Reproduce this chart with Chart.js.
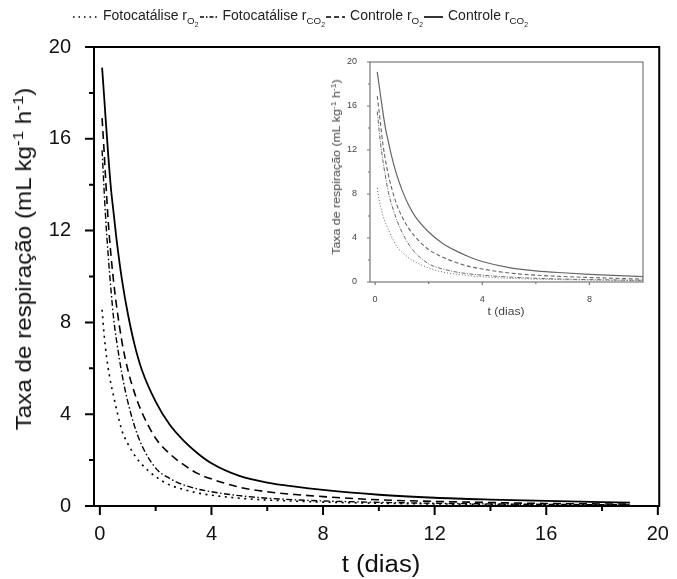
<!DOCTYPE html>
<html lang="pt">
<head>
<meta charset="UTF-8">
<title>Taxa de respiração</title>
<script src="https://cdn.jsdelivr.net/npm/chart.js@4"></script>
<style>
  body { margin: 0; background: #fff; font-family: 'Liberation Sans', Arial, sans-serif; }
  #wrap { position: relative; width: 677px; height: 579px; }
  #main { position: absolute; left: 0; top: 0; }
  #inset { position: absolute; left: 320px; top: 50px; }
  .ytitle { position: absolute; white-space: nowrap; transform: translate(-50%, -50%) rotate(-90deg) scaleX(var(--sx, 1)); }
  .xtitle { position: absolute; white-space: nowrap; transform: translate(-50%, -50%) scaleX(var(--sx, 1)); }
  sup, sub { font-size: 70%; line-height: 0; }
  #legend { position: absolute; left: 72px; top: 7px; display: flex; align-items: center; font-size: 14px; color: #222; white-space: nowrap; }
  #legend svg { display: block; }
  #legend span { margin: 0 1px 0 5px; }
</style>
</head>
<body>
<div id="wrap">
  <canvas id="main" width="677" height="579"></canvas>
  <canvas id="inset" width="345" height="270"></canvas>

  <div id="legend">
    <svg width="26" height="12"><line x1="1" y1="7" x2="26" y2="7" stroke="#000" stroke-width="1.6" stroke-dasharray="1.5,4"/></svg>
    <span>Fotocatálise r<sub>O<sub>2</sub></sub></span>
    <svg width="18" height="12"><line x1="0" y1="7" x2="18" y2="7" stroke="#000" stroke-width="1.4" stroke-dasharray="4,2,1.5,2"/></svg>
    <span>Fotocatálise r<sub>CO<sub>2</sub></sub></span>
    <svg width="19" height="12"><line x1="0" y1="7" x2="19" y2="7" stroke="#000" stroke-width="1.5" stroke-dasharray="5,3"/></svg>
    <span>Controle r<sub>O<sub>2</sub></sub></span>
    <svg width="19" height="12"><line x1="0" y1="7" x2="19" y2="7" stroke="#000" stroke-width="1.6"/></svg>
    <span>Controle r<sub>CO<sub>2</sub></sub></span>
  </div>

  <div class="ytitle" style="left:24px; top:259px; font-size:22px; color:#111; --sx:1.1;">Taxa de respiração (mL kg<sup>-1</sup> h<sup>-1</sup>)</div>
  <div class="xtitle" style="left:381px; top:564px; font-size:23px; color:#111; --sx:1.12;">t (dias)</div>

  <div class="ytitle" style="left:336px; top:167px; font-size:10.5px; color:#444; --sx:1.18;">Taxa de respiração (mL kg<sup>-1</sup> h<sup>-1</sup>)</div>
  <div class="xtitle" style="left:506px; top:311px; font-size:10.5px; color:#444; --sx:1.15;">t (dias)</div>
</div>

<script>
// tempo (dias)
const t = [0.08, 0.15, 0.2, 0.3, 0.4, 0.5, 0.6, 0.8, 1.0, 1.25, 1.5, 2, 2.5, 3, 3.5, 4, 5, 6, 7, 8, 10, 12, 14, 16, 19];

// taxas (mL kg-1 h-1)
const fotoO2      = [8.55, 7.5, 6.9, 6.0, 5.3, 4.75, 4.2, 3.25, 2.72, 2.2, 1.82, 1.28, 0.92, 0.72, 0.57, 0.47, 0.34, 0.26, 0.21, 0.17, 0.12, 0.09, 0.07, 0.05, 0.04];
const fotoCO2     = [15.5, 13.8, 12.7, 10.9, 9.4, 8.1, 7.2, 5.7, 4.55, 3.45, 2.65, 1.65, 1.2, 0.92, 0.74, 0.62, 0.45, 0.34, 0.27, 0.22, 0.16, 0.12, 0.09, 0.07, 0.05];
const controleO2  = [16.9, 15.5, 14.4, 12.4, 10.9, 9.7, 8.7, 7.1, 5.95, 4.9, 4.1, 2.95, 2.28, 1.8, 1.42, 1.18, 0.82, 0.62, 0.5, 0.41, 0.27, 0.2, 0.15, 0.11, 0.08];
const controleCO2 = [19.1, 17.9, 17.0, 15.3, 13.8, 12.7, 11.6, 9.8, 8.4, 7.0, 5.95, 4.55, 3.55, 2.85, 2.3, 1.86, 1.31, 1.02, 0.84, 0.7, 0.49, 0.36, 0.28, 0.22, 0.15];

// marcas dos eixos
const xTicksMain = [0, 2, 4, 6, 8, 10, 12, 14, 16, 18, 20];
const xTicksInset = [0, 2, 4, 6, 8];
const yTicks = [0, 2, 4, 6, 8, 10, 12, 14, 16, 18, 20];

const pts = arr => arr.map((v, i) => ({ x: t[i], y: v }));

function makeDatasets(color, w, dashes) {
  const series = [fotoO2, fotoCO2, controleO2, controleCO2];
  const names = ['Fotocatálise rO2', 'Fotocatálise rCO2', 'Controle rO2', 'Controle rCO2'];
  return series.map((s, i) => ({
    label: names[i],
    data: pts(s),
    borderColor: color,
    borderWidth: w[i],
    borderDash: dashes[i],
    pointRadius: 0,
    fill: false,
    cubicInterpolationMode: 'monotone'
  }));
}

// moldura + marcas (maior/menor) desenhadas a partir das escalas
const frameTicks = {
  id: 'frameTicks',
  afterDraw(chart, args, o) {
    const { ctx, chartArea: a, scales: { x, y } } = chart;
    ctx.save();
    ctx.strokeStyle = o.color;
    ctx.lineWidth = o.width;
    ctx.strokeRect(a.left, a.top, a.right - a.left, a.bottom - a.top);
    ctx.beginPath();
    x.ticks.forEach(tk => {
      const px = x.getPixelForValue(tk.value);
      const len = tk.value % 4 === 0 ? o.major : o.minor;
      ctx.moveTo(px, a.bottom); ctx.lineTo(px, a.bottom + len);
    });
    y.ticks.forEach(tk => {
      const py = y.getPixelForValue(tk.value);
      const len = tk.value % 4 === 0 ? o.major : o.minor;
      ctx.moveTo(a.left, py); ctx.lineTo(a.left - len, py);
    });
    ctx.stroke();
    ctx.restore();
  }
};

const label4 = v => (v % 4 === 0 ? v : '');

new Chart(document.getElementById('main'), {
  type: 'line',
  data: { datasets: makeDatasets('#000', [1.6, 1.4, 1.6, 1.8], [[2, 4.5], [6, 2.5, 1.5, 2.5], [8, 5], []]) },
  options: {
    responsive: false,
    animation: false,
    layout: { padding: { left: 0, right: 13, top: 47, bottom: 0 } },
    plugins: {
      legend: { display: false },
      tooltip: { enabled: false },
      frameTicks: { color: '#000', width: 2, major: 9, minor: 5 }
    },
    scales: {
      x: {
        type: 'linear', min: -0.21, max: 20.05,
        afterBuildTicks: s => { s.ticks = xTicksMain.map(v => ({ value: v })); },
        afterFit: s => { s.height = 73; },
        grid: { display: false }, border: { display: false },
        ticks: { callback: label4, autoSkip: false, maxRotation: 0, padding: 8, color: '#111', font: { family: 'Liberation Sans', size: 20 } }
      },
      y: {
        min: 0, max: 20,
        afterBuildTicks: s => { s.ticks = yTicks.map(v => ({ value: v })); },
        afterFit: s => { s.width = 94; },
        grid: { display: false }, border: { display: false },
        ticks: { callback: label4, autoSkip: false, padding: 15, color: '#111', font: { family: 'Liberation Sans', size: 20 } }
      }
    }
  },
  plugins: [frameTicks]
});

new Chart(document.getElementById('inset'), {
  type: 'line',
  data: { datasets: makeDatasets('#666', [1, 1, 1.1, 1.2], [[1, 2], [4, 1.5, 1, 1.5], [4, 2.5], []]) },
  options: {
    responsive: false,
    animation: false,
    layout: { padding: { left: 0, right: 22, top: 12, bottom: 0 } },
    plugins: {
      legend: { display: false },
      tooltip: { enabled: false },
      frameTicks: { color: '#777', width: 1.2, major: 3, minor: 2 }
    },
    scales: {
      x: {
        type: 'linear', min: -0.19, max: 10,
        afterBuildTicks: s => { s.ticks = xTicksInset.map(v => ({ value: v })); },
        afterFit: s => { s.height = 38; },
        grid: { display: false }, border: { display: false },
        ticks: { callback: label4, autoSkip: false, maxRotation: 0, padding: 4, color: '#444', font: { family: 'Liberation Sans', size: 9 } }
      },
      y: {
        min: 0, max: 20,
        afterBuildTicks: s => { s.ticks = yTicks.map(v => ({ value: v })); },
        afterFit: s => { s.width = 50; },
        grid: { display: false }, border: { display: false },
        ticks: { callback: label4, autoSkip: false, padding: 5, color: '#444', font: { family: 'Liberation Sans', size: 9 } }
      }
    }
  },
  plugins: [frameTicks]
});
</script>
</body>
</html>
